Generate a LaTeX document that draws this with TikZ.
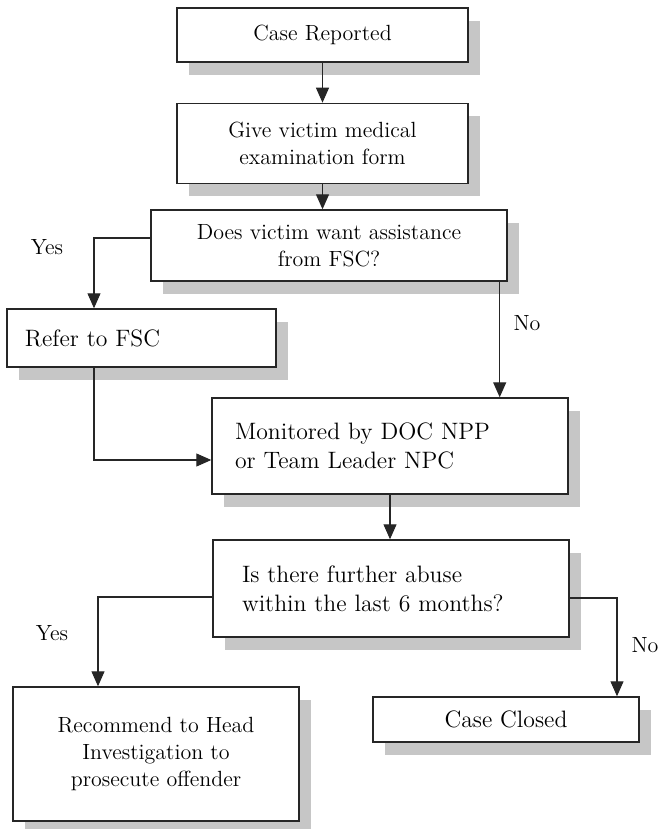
\documentclass[tikz,border=0pt]{standalone}
\usepackage{fontspec}
\usetikzlibrary{arrows.meta, positioning, shadows}
\definecolor{shadowGray}{HTML}{C6C6C6}
\definecolor{lineDark}{HTML}{262626}
\tikzset{
  arrowK/.style={-{Triangle[length=3mm, width=2.6mm]}, lineDark, line width=0.6pt},
  boxW/.style={rectangle, draw=lineDark, fill=white, line width=0.8pt,
               font=\fontsize{12.5}{15.3}\selectfont, inner sep=0pt,
               drop shadow={shadow xshift=2.4mm, shadow yshift=-2.6mm,
                            fill=shadowGray, opacity=1}},
  boxC/.style={boxW, align=center},
  boxL/.style={boxW, align=left, font=\fontsize{13.5}{16.5}\selectfont},
  lbl/.style={font=\fontsize{12.5}{15}\selectfont, inner sep=0pt},
}
\begin{document}
\begin{tikzpicture}
  \useasboundingbox (0,0) rectangle (13.16,-16.58);
  % main column
  \node[boxC, minimum width=5.82cm, minimum height=1.08cm] (rep) at (6.45,-0.7) {Case Reported};
  \node[boxC, minimum width=5.82cm, minimum height=1.6cm, below=0.8cm of rep] (give)
       {Give victim medical\\examination form};
  \node[boxC, minimum width=7.12cm, minimum height=1.42cm] (ask) at (6.58,-4.91)
       {Does victim want assistance\\from FSC?};
  \node[boxW, font=\fontsize{13.5}{16.5}\selectfont, align=left, text width=4.66cm,
        inner xsep=3.6mm, minimum height=1.16cm] (refer) at (2.83,-6.76) {Refer to FSC};
  \node[boxL, text width=6.2cm, inner xsep=4.6mm, minimum height=1.92cm] (mon) at (7.8,-8.92)
       {Monitored by DOC NPP\\or Team Leader NPC};
  \node[boxL, text width=5.96cm, inner xsep=5.8mm, minimum height=1.94cm] (abuse) at (7.82,-11.77)
       {Is there further abuse\\within the last 6 months?};
  % outcomes
  \node[boxC, minimum width=5.72cm, minimum height=2.68cm] (rec) at (3.12,-15.08)
       {Recommend to Head\\Investigation to\\prosecute offender};
  \node[boxC, font=\fontsize{13.5}{16.5}\selectfont, minimum width=5.32cm, minimum height=0.9cm]
       (closed) at (10.12,-14.39) {Case Closed};
  % connectors
  \coordinate (noTop) at ([xshift=-1.6mm]ask.south east);
  \draw[arrowK] (rep) -- (give);
  \draw[arrowK] (give.south) -- (give.south |- ask.north);
  \draw[arrowK] ([yshift=1.5mm]ask.west) -| ([xshift=-9.5mm]refer.north);
  \draw[arrowK] ([xshift=-9.5mm]refer.south) |- ([yshift=-2.8mm]mon.west);
  \draw[arrowK] (noTop) -- (noTop |- mon.north);
  \draw[arrowK] (mon.south) -- (mon.south |- abuse.north);
  \draw[arrowK] ([yshift=-1.7mm]abuse.west) -| ([xshift=-11.6mm]rec.north);
  \draw[arrowK] ([yshift=-1.9mm]abuse.east) -| ([xshift=22.2mm]closed.north);
  % labels
  \node[lbl] (yesA) at (0.94,-4.94) {Yes};
  \node[lbl] (noA) at (10.54,-6.46) {No};
  \node[lbl] (yesB) at (1.04,-12.66) {Yes};
  \node[lbl] (noB) at (12.9,-12.9) {No};
\end{tikzpicture}
\end{document}
